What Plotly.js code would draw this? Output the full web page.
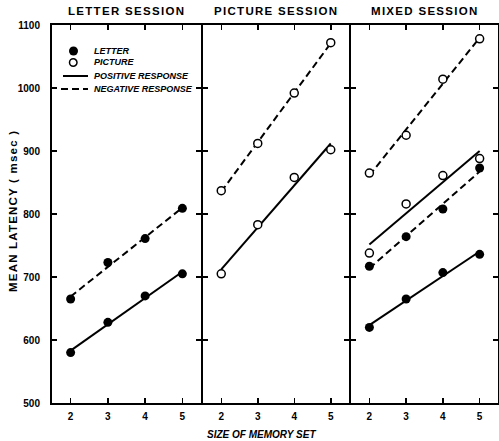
<!DOCTYPE html>
<html>
<head>
<meta charset="utf-8">
<script src="https://cdn.plot.ly/plotly-3.0.1.min.js"></script>
<style>html,body{margin:0;padding:0;background:#fff;}</style>
</head>
<body>
<div id="chart" style="width:499px;height:441px;"></div>
<script>
// ---- data ----
const setSizes = [2, 3, 4, 5];
const sessionTitles = ['LETTER SESSION', 'PICTURE SESSION', 'MIXED SESSION'];
const yTicks = [500, 600, 700, 800, 900, 1000, 1100];
const legendLabels = ['LETTER', 'PICTURE', 'POSITIVE RESPONSE', 'NEGATIVE RESPONSE'];

// Letter session (letter stimuli)
const letterSessPos = [580, 628, 670, 705];
const letterSessNeg = [665, 723, 761, 809];
// Picture session (picture stimuli)
const pictureSessPos = [705, 783, 858, 902];
const pictureSessNeg = [837, 912, 992, 1072];
// Mixed session
const mixedLetterPos = [620, 665, 707, 736];
const mixedLetterNeg = [717, 764, 808, 873];
const mixedPicturePos = [738, 816, 861, 888];
const mixedPictureNeg = [865, 925, 1014, 1078];

// ---- helpers ----
function fit(xs, ys) {
  const n = xs.length;
  const mx = xs.reduce((a, b) => a + b, 0) / n;
  const my = ys.reduce((a, b) => a + b, 0) / n;
  let sxy = 0, sxx = 0;
  for (let i = 0; i < n; i++) { sxy += (xs[i] - mx) * (ys[i] - my); sxx += (xs[i] - mx) ** 2; }
  const b = sxy / sxx;
  return xs.map(x => my + b * (x - mx));
}
const FONT = 'Liberation Sans, Arial, sans-serif';
const L = 52, R = 498, T = 25, B = 403;
const px = p => (p - L) / (R - L);
const py = p => (B - p) / (B - T);

const dashPat = '7px,4px';
const traces = [];
function addSeries(ax, ys, filled, dashed) {
  const xa = ax === 1 ? 'x' : 'x' + ax;
  const ya = ax === 1 ? 'y' : 'y' + ax;
  traces.push({
    x: setSizes, y: fit(setSizes, ys), xaxis: xa, yaxis: ya, mode: 'lines',
    line: {color: '#000', width: 2, dash: dashed ? dashPat : 'solid'},
    showlegend: false, hoverinfo: 'skip'
  });
  traces.push({
    x: setSizes, y: ys, xaxis: xa, yaxis: ya, mode: 'markers',
    marker: filled ? {symbol: 'circle', size: 9, color: '#000', line: {width: 0}}
                   : {symbol: 'circle', size: 8, color: '#fff', line: {color: '#000', width: 1.5}},
    showlegend: false
  });
}
addSeries(1, letterSessNeg, true, true);
addSeries(1, letterSessPos, true, false);
addSeries(2, pictureSessNeg, false, true);
addSeries(2, pictureSessPos, false, false);
addSeries(3, mixedPictureNeg, false, true);
addSeries(3, mixedPicturePos, false, false);
addSeries(3, mixedLetterNeg, true, true);
addSeries(3, mixedLetterPos, true, false);

// 2px gaps so that neighbouring panel border lines coincide
const domains = [[0, px(201)], [px(203), px(349)], [px(351), 1]];
function xAxis(i) {
  return {
    domain: domains[i], range: [1.5, 5.5], tickvals: setSizes, ticktext: setSizes.map(String),
    ticks: 'inside', ticklen: 5, tickwidth: 1.5, tickcolor: '#000',
    showline: true, linewidth: 2, linecolor: '#000', mirror: 'ticks',
    showgrid: false, zeroline: false, fixedrange: true,
    tickfont: {family: FONT, size: 10, color: '#000', weight: 'bold'},
    ticklabelstandoff: 3,
    anchor: i === 0 ? 'y' : 'y' + (i + 1)
  };
}
function yAxis(i) {
  const a = {
    range: [500, 1100], tickvals: yTicks, ticktext: yTicks.map(String),
    ticks: 'inside', ticklen: 5, tickwidth: 1.5, tickcolor: '#000',
    showline: true, linewidth: 2, linecolor: '#000', mirror: 'ticks',
    showgrid: false, zeroline: false, fixedrange: true,
    tickfont: {family: FONT, size: 10, color: '#000', weight: 'bold'},
    ticklabelstandoff: 8,
    anchor: i === 0 ? 'x' : 'x' + (i + 1)
  };
  if (i > 0) { a.showticklabels = false; a.matches = 'y'; }
  return a;
}

const spaced = (t, s) => '<span style="letter-spacing:' + s + 'px">' + t + '</span>';
const annotations = [];
sessionTitles.forEach((t, i) => {
  annotations.push({
    text: spaced(t, 1.3), xref: 'paper', yref: 'paper',
    x: (domains[i][0] + domains[i][1]) / 2, y: py(11), xanchor: 'center', yanchor: 'middle',
    showarrow: false, font: {family: FONT, size: 11.5, color: '#000', weight: 'bold'}
  });
});
annotations.push({
  text: spaced('MEAN LATENCY ( msec )', 1.2), xref: 'paper', yref: 'paper',
  x: px(13), y: py(211), xanchor: 'center', yanchor: 'middle', textangle: -90,
  showarrow: false, font: {family: FONT, size: 11.5, color: '#000', weight: 'bold'}
});
annotations.push({
  text: 'SIZE OF MEMORY SET', xref: 'paper', yref: 'paper',
  x: px(261), y: py(434.5), xanchor: 'center', yanchor: 'middle',
  showarrow: false, font: {family: FONT, size: 10, color: '#000', weight: 'bold', style: 'italic'}
});
// legend (drawn manually for tight row spacing)
const legY = [51, 62.5, 76, 89];
legendLabels.forEach((t, i) => {
  annotations.push({
    text: t, xref: 'paper', yref: 'paper',
    x: px(92), y: py(legY[i]), xanchor: 'left', yanchor: 'middle',
    showarrow: false, font: {family: FONT, size: 9, color: '#000', weight: 'bold', style: 'italic'}
  });
});
const shapes = [
  {type: 'circle', xref: 'paper', yref: 'paper', x0: px(69), x1: px(78), y0: py(legY[0] - 4.5), y1: py(legY[0] + 4.5),
   fillcolor: '#000', line: {width: 0}},
  {type: 'circle', xref: 'paper', yref: 'paper', x0: px(69.5), x1: px(77), y0: py(legY[1] - 3.75), y1: py(legY[1] + 3.75),
   fillcolor: '#fff', line: {color: '#000', width: 1.5}},
  {type: 'line', xref: 'paper', yref: 'paper', x0: px(63), x1: px(88), y0: py(legY[2]), y1: py(legY[2]),
   line: {color: '#000', width: 2}},
  {type: 'line', xref: 'paper', yref: 'paper', x0: px(61), x1: px(88), y0: py(legY[3]), y1: py(legY[3]),
   line: {color: '#000', width: 2, dash: dashPat}}
];

const layout = {
  width: 499, height: 441,
  margin: {l: L, r: 499 - R, t: T, b: 441 - B, pad: 0},
  paper_bgcolor: '#fff', plot_bgcolor: '#fff',
  showlegend: false,
  font: {family: FONT, color: '#000'},
  xaxis: xAxis(0), xaxis2: xAxis(1), xaxis3: xAxis(2),
  yaxis: yAxis(0), yaxis2: yAxis(1), yaxis3: yAxis(2),
  annotations: annotations, shapes: shapes
};
Plotly.newPlot('chart', traces, layout, {displayModeBar: false, staticPlot: true});
</script>
</body>
</html>
